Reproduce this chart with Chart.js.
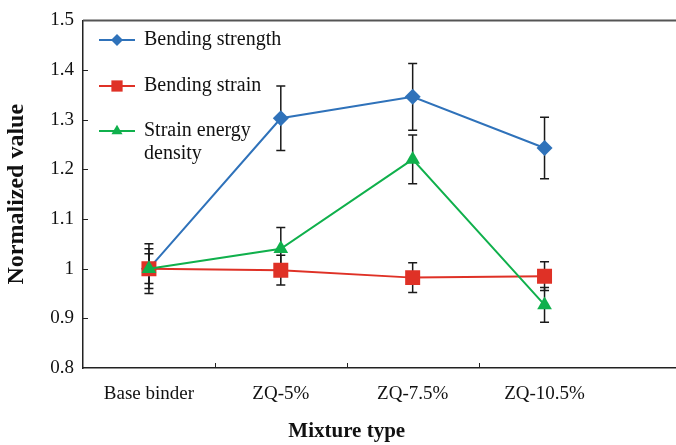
<!DOCTYPE html>
<html>
<head>
<meta charset="utf-8">
<script src="https://cdn.jsdelivr.net/npm/chart.js@4.4.1/dist/chart.umd.min.js"></script>
<style>
  html, body { margin: 0; padding: 0; background: #fff; overflow: hidden; }
  #wrap { width: 687px; height: 445px; position: relative; }
  #grafico { display: block; }
</style>
</head>
<body>
<div id="wrap"><canvas id="grafico"></canvas></div>
<script>
// Dados
const categorias = ["Base binder", "ZQ-5%", "ZQ-7.5%", "ZQ-10.5%"];
const resistencia = [1.0, 1.303, 1.346, 1.243];
const resistenciaErro = [0.05, 0.065, 0.067, 0.062];
const deformacao = [1.0, 0.997, 0.982, 0.985];
const deformacaoErro = [0.03, 0.03, 0.03, 0.029];
const energia = [1.0, 1.04, 1.22, 0.927];
const energiaErro = [0.04, 0.043, 0.049, 0.035];
const ticksY = [0.8, 0.9, 1.0, 1.1, 1.2, 1.3, 1.4, 1.5];

const AZUL = "#2F72BA";
const VERMELHO = "#DF3126";
const VERDE = "#10B04C";
const FONTE = "'Liberation Serif', 'Times New Roman', serif";

const pontos = arr => arr.map((v, i) => ({ x: i, y: v }));

const series = [
  { label: "Bending strength", data: resistencia, erro: resistenciaErro, cor: AZUL, estilo: "rectRot", raio: 8, ordem: 3 },
  { label: "Bending strain", data: deformacao, erro: deformacaoErro, cor: VERMELHO, estilo: "rect", raio: 10.6, ordem: 2 },
  { label: "Strain energy density", data: energia, erro: energiaErro, cor: VERDE, estilo: "triangle", raio: 8.5, ordem: 1 }
];

// barras de erro, desenhadas antes das linhas
const pluginErros = {
  id: "erros",
  beforeDatasetsDraw(chart) {
    const { ctx, scales: { x, y } } = chart;
    ctx.save();
    ctx.strokeStyle = "#1a1a1a";
    ctx.lineWidth = 1.5;
    series.forEach(s => {
      s.data.forEach((v, i) => {
        const px = x.getPixelForValue(i);
        const top = y.getPixelForValue(v + s.erro[i]);
        const bot = y.getPixelForValue(v - s.erro[i]);
        ctx.beginPath();
        ctx.moveTo(px, top); ctx.lineTo(px, bot);
        ctx.moveTo(px - 4.5, top); ctx.lineTo(px + 4.5, top);
        ctx.moveTo(px - 4.5, bot); ctx.lineTo(px + 4.5, bot);
        ctx.stroke();
      });
    });
    ctx.restore();
  }
};

// moldura, ticks para dentro, titulo do eixo x e legenda
const pluginExtras = {
  id: "extras",
  afterDraw(chart) {
    const { ctx, chartArea: a, scales: { x, y } } = chart;
    ctx.save();
    // borda de cima
    ctx.strokeStyle = "#555";
    ctx.lineWidth = 2;
    ctx.beginPath();
    ctx.moveTo(a.left, a.top); ctx.lineTo(a.right, a.top);
    ctx.stroke();

    ctx.strokeStyle = "#222";
    ctx.lineWidth = 1;
    ctx.beginPath();
    [0.5, 1.5, 2.5].forEach(v => {
      const px = Math.round(x.getPixelForValue(v)) + 0.5;
      ctx.moveTo(px, a.bottom); ctx.lineTo(px, a.bottom - 5);
    });
    ticksY.slice(1, -1).forEach(v => {
      const py = Math.round(y.getPixelForValue(v)) + 0.5;
      ctx.moveTo(a.left, py); ctx.lineTo(a.left + 5, py);
    });
    ctx.stroke();

    // titulo do eixo x centrado nas categorias
    ctx.fillStyle = "#111";
    ctx.font = "bold 21px " + FONTE;
    ctx.textAlign = "center";
    ctx.textBaseline = "middle";
    ctx.fillText("Mixture type", x.getPixelForValue((categorias.length - 1) / 2), 432);

    // legenda
    const linhas = [
      { y: 40, texto: ["Bending strength"] },
      { y: 86, texto: ["Bending strain"] },
      { y: 131, texto: ["Strain energy", "density"] }
    ];
    ctx.font = "20px " + FONTE;
    ctx.textAlign = "left";
    linhas.forEach((l, i) => {
      const s = series[i];
      ctx.strokeStyle = s.cor;
      ctx.lineWidth = 2;
      ctx.beginPath();
      ctx.moveTo(99, l.y); ctx.lineTo(135, l.y);
      ctx.stroke();
      ctx.fillStyle = s.cor;
      Chart.helpers.drawPoint(ctx, { pointStyle: s.estilo, radius: s.raio * 0.75, borderWidth: 0, rotation: 0 }, 117, l.y);
      ctx.fillStyle = "#111";
      l.texto.forEach((t, k) => ctx.fillText(t, 144, l.y + k * 23));
    });
    ctx.restore();
  }
};

const ctx = document.getElementById("grafico").getContext("2d");
new Chart(ctx, {
  type: "line",
  data: {
    datasets: series.map(s => ({
      label: s.label,
      data: pontos(s.data),
      borderColor: s.cor,
      backgroundColor: s.cor,
      borderWidth: 2,
      pointStyle: s.estilo,
      pointRadius: s.raio,
      pointHoverRadius: s.raio,
      pointBorderWidth: 0,
      tension: 0,
      order: s.ordem
    }))
  },
  options: {
    responsive: true,
    maintainAspectRatio: false,
    animation: false,
    layout: { padding: { top: 16, right: 0, left: 0, bottom: 0 } },
    plugins: { legend: { display: false }, tooltip: { enabled: false } },
    scales: {
      x: {
        type: "linear",
        min: -0.5,
        max: 4.0,
        grid: { display: false, drawTicks: false },
        border: { display: true, color: "#222", width: 1.5 },
        afterBuildTicks: scale => { scale.ticks = categorias.map((c, i) => ({ value: i })); },
        afterFit: scale => { scale.height = 77; },
        ticks: {
          autoSkip: false,
          maxRotation: 0,
          padding: 15,
          color: "#111",
          font: { family: FONTE, size: 19 },
          callback: v => categorias[v] ?? ""
        }
      },
      y: {
        min: 0.8,
        max: 1.5,
        grid: { display: false, drawTicks: false },
        border: { display: true, color: "#222", width: 1.5 },
        afterBuildTicks: scale => { scale.ticks = ticksY.map(v => ({ value: v })); },
        afterFit: scale => { scale.width = 83; },
        ticks: {
          padding: 9,
          color: "#111",
          font: { family: FONTE, size: 19 },
          callback: v => (+v.toFixed(1)).toString()
        },
        title: {
          display: true,
          text: "Normalized value",
          color: "#111",
          font: { family: FONTE, size: 24, weight: "bold" },
          padding: { top: 2, bottom: 0 }
        }
      }
    }
  },
  plugins: [pluginErros, pluginExtras]
});
</script>
</body>
</html>
